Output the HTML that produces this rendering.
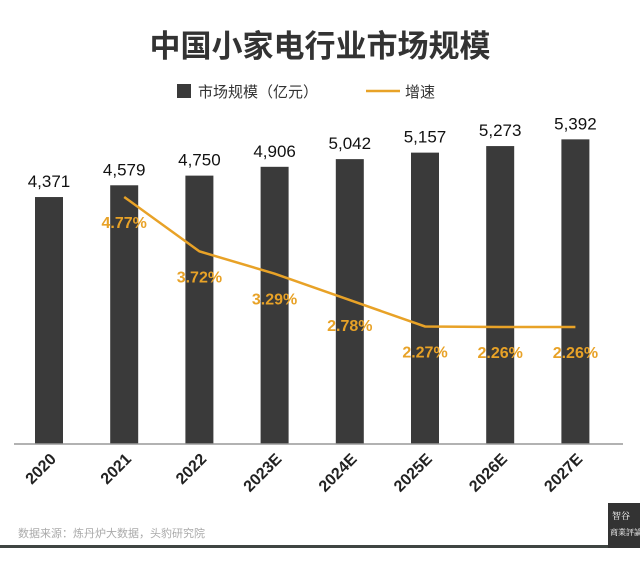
<!DOCTYPE html>
<html><head><meta charset="utf-8"><style>
body{margin:0;background:#fff;width:640px;height:578px;overflow:hidden;font-family:"Liberation Sans","Noto Sans CJK SC",sans-serif}
</style></head><body>
<svg width="640" height="578" xmlns="http://www.w3.org/2000/svg" id="svg">
<text x="320" y="57" text-anchor="middle" font-size="31" font-weight="bold" fill="#333" font-family="Noto Sans CJK SC, sans-serif">中国小家电行业市场规模</text>
<g>
<rect x="177" y="84" width="14" height="14" fill="#3a3a3a"/>
<text x="198" y="97" font-size="15" fill="#333" font-family="Noto Sans CJK SC, sans-serif">市场规模（亿元）</text>
<line x1="366" y1="91" x2="400" y2="91" stroke="#e8a227" stroke-width="2.5"/>
<text x="405" y="97" font-size="15" fill="#333" font-family="Noto Sans CJK SC, sans-serif">增速</text>
</g>
<g id="bars"></g>
<line x1="14" y1="444" x2="623" y2="444" stroke="#999" stroke-width="1.5"/>
<g id="line"></g>
<text x="18" y="537" font-size="11" fill="#aaa" font-family="Noto Sans CJK SC, sans-serif">数据来源：炼丹炉大数据，头豹研究院</text>
<rect x="0" y="545" width="610" height="3" fill="#3f4542"/>
<g>
<rect x="608" y="503" width="32" height="45" fill="#333"/>
<text x="612" y="519" font-size="9" fill="#fff" font-family="Noto Serif CJK SC, serif">智谷</text>
<text x="610" y="535" font-size="8" fill="#fff" font-family="Noto Serif CJK SC, serif">商業評論</text>
</g>
</svg>
<script>
const categories=["2020","2021","2022","2023E","2024E","2025E","2026E","2027E"];
const sizes=[4371,4579,4750,4906,5042,5157,5273,5392];
const sizeLabels=["4,371","4,579","4,750","4,906","5,042","5,157","5,273","5,392"];
const growth=[null,4.77,3.72,3.29,2.78,2.27,2.26,2.26];
const growthLabels=["","4.77%","3.72%","3.29%","2.78%","2.27%","2.26%","2.26%"];
const NS="http://www.w3.org/2000/svg";
const xPos=i=>49+i*75.2;
const yBar=v=>444-v*0.0565;
const yLine=v=>327-(v-2.26)*51.8;
const bars=document.getElementById('bars'),lg=document.getElementById('line');
function mk(t,a,p){const e=document.createElementNS(NS,t);for(const k in a)e.setAttribute(k,a[k]);p.appendChild(e);return e;}
categories.forEach((c,i)=>{
 const x=xPos(i),y=yBar(sizes[i]);
 const r=mk('rect',{x:x-14,y:y,width:28,height:444-y,fill:'#3a3a3a'},bars);
 
 
 const t=mk('text',{x:x,y:y-10,'text-anchor':'middle','font-size':'17',fill:'#111'},bars);t.textContent=sizeLabels[i];
 
 
 const xl=mk('text',{x:x+8,y:460,'text-anchor':'end','font-size':'16','font-weight':'bold',fill:'#222',transform:`rotate(-45 ${x+8} 460)`},bars);xl.textContent=c;
 
 
});
let pts=[];
growth.forEach((g,i)=>{if(g!==null)pts.push(xPos(i)+','+yLine(g));});
const pl=mk('polyline',{points:pts.join(' '),fill:'none',stroke:'#e8a227','stroke-width':'2.5'},lg);


growth.forEach((g,i)=>{if(g===null)return;
 const t=mk('text',{x:xPos(i),y:yLine(g)+31,'text-anchor':'middle','font-size':'16','font-weight':'bold',fill:'#e8a227'},lg);t.textContent=growthLabels[i];
 
 
});
</script>
</body></html>
